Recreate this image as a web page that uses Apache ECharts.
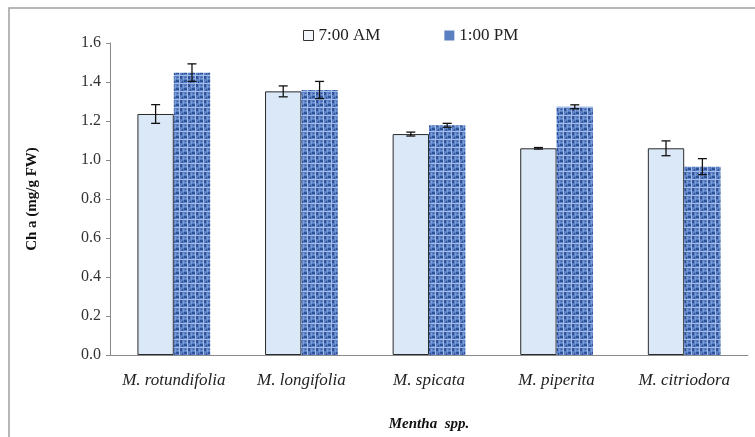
<!DOCTYPE html>
<html>
<head>
<meta charset="utf-8">
<script src="https://cdn.jsdelivr.net/npm/echarts@6/dist/echarts.min.js"></script>
<style>
  html, body { margin: 0; padding: 0; background: #fff; }
  #chart { width: 755px; height: 437px; }
</style>
</head>
<body>
<div id="chart"></div>
<script>
const categories = ['M. rotundifolia', 'M. longifolia', 'M. spicata', 'M. piperita', 'M. citriodora'];
const amValues = [1.236, 1.352, 1.133, 1.060, 1.060];
const amErrors = [0.048, 0.028, 0.010, 0.004, 0.038];
const pmValues = [1.448, 1.359, 1.178, 1.273, 0.966];
const pmErrors = [0.045, 0.044, 0.010, 0.010, 0.041];
const yTicks = ['0.0', '0.2', '0.4', '0.6', '0.8', '1.0', '1.2', '1.4', '1.6'];

const font = '"Liberation Serif", "Times New Roman", serif';
const gapPct = 43;

// woven blue texture for the 1:00 PM bars
function makeTexture() {
  const c = document.createElement('canvas');
  c.width = 8; c.height = 8;
  const g = c.getContext('2d');
  g.fillStyle = '#5b80c3';
  g.fillRect(0, 0, 8, 8);
  g.fillStyle = '#2f5199';
  g.fillRect(0, 0, 3, 2);
  g.fillRect(4, 4, 2, 3);
  g.fillRect(6, 1, 1, 2);
  g.fillRect(1, 5, 1, 1);
  g.fillStyle = '#a3bde8';
  g.fillRect(3, 0, 1, 8);
  g.fillRect(0, 3, 8, 1);
  g.fillStyle = '#7f9fd8';
  g.fillRect(7, 5, 1, 3);
  g.fillRect(1, 6, 2, 1);
  return c;
}

function errorSeries(vals, errs, side) {
  return {
    type: 'custom',
    z: 10,
    silent: true,
    data: vals.map((v, i) => [i, v - errs[i], v + errs[i]]),
    renderItem: function (params, api) {
      const band = api.size([1, 0])[0];
      const barW = band * (1 - gapPct / 100) / 2;
      const lo = api.coord([api.value(0), api.value(1)]);
      const hi = api.coord([api.value(0), api.value(2)]);
      const x = lo[0] + side * barW / 2;
      const cap = 4.5;
      const st = { stroke: '#111', lineWidth: 1.3 };
      return {
        type: 'group',
        children: [
          { type: 'line', shape: { x1: x, y1: lo[1], x2: x, y2: hi[1] }, style: st },
          { type: 'line', shape: { x1: x - cap, y1: lo[1], x2: x + cap, y2: lo[1] }, style: st },
          { type: 'line', shape: { x1: x - cap, y1: hi[1], x2: x + cap, y2: hi[1] }, style: st }
        ]
      };
    },
    encode: { x: 0, y: [1, 2] }
  };
}

const chart = echarts.init(document.getElementById('chart'));
const texture = makeTexture();

chart.setOption({
  animation: false,
  graphic: [{
    type: 'rect',
    shape: { x: 9, y: 8, width: 800, height: 500 },
    style: { fill: 'none', stroke: '#a0a0a0', lineWidth: 1.5 },
    silent: true
  }],
  legend: {
    top: 22,
    left: 298,
    itemGap: 64,
    itemWidth: 10,
    itemHeight: 10,
    icon: 'rect',
    textStyle: { fontFamily: font, fontSize: 17, color: '#222' },
    data: [
      { name: '7:00 AM', itemStyle: { color: '#f4f8fd', borderColor: '#333', borderWidth: 1 } },
      { name: '1:00 PM', itemStyle: { color: '#5a80c2' } }
    ]
  },
  grid: { left: 110, right: 7, top: 43, bottom: 82 },
  xAxis: {
    type: 'category',
    data: categories,
    name: 'Mentha  spp.',
    nameLocation: 'middle',
    nameGap: 62,
    nameTextStyle: { fontFamily: font, fontSize: 15, fontStyle: 'italic', fontWeight: 'bold', color: '#111' },
    axisLine: { lineStyle: { color: '#8a8a8a', width: 1 } },
    axisTick: { show: false },
    axisLabel: { interval: 0, hideOverlap: false, margin: 17, fontFamily: font, fontSize: 17, fontStyle: 'italic', color: '#222' }
  },
  yAxis: {
    type: 'value',
    min: 0,
    max: 1.6,
    interval: 0.2,
    name: 'Ch a (mg/g FW)',
    nameLocation: 'middle',
    nameGap: 70,
    nameTextStyle: { fontFamily: font, fontSize: 15, fontWeight: 'bold', color: '#111' },
    splitLine: { show: false },
    axisLine: { show: true, lineStyle: { color: '#8a8a8a', width: 1 } },
    axisTick: { show: true, length: 4, lineStyle: { color: '#8a8a8a' } },
    axisLabel: {
      margin: 9,
      fontFamily: font, fontSize: 16, color: '#333',
      formatter: v => yTicks[Math.round(v / 0.2)]
    }
  },
  series: [
    {
      name: '7:00 AM',
      type: 'bar',
      data: amValues,
      barGap: '0%',
      barCategoryGap: gapPct + '%',
      itemStyle: { color: '#dae8f7', borderColor: '#2a2a2a', borderWidth: 1 }
    },
    {
      name: '1:00 PM',
      type: 'bar',
      data: pmValues,
      barGap: '0%',
      barCategoryGap: gapPct + '%',
      itemStyle: { color: { image: texture, repeat: 'repeat' } }
    },
    errorSeries(amValues, amErrors, -1),
    errorSeries(pmValues, pmErrors, 1)
  ]
});
</script>
</body>
</html>
